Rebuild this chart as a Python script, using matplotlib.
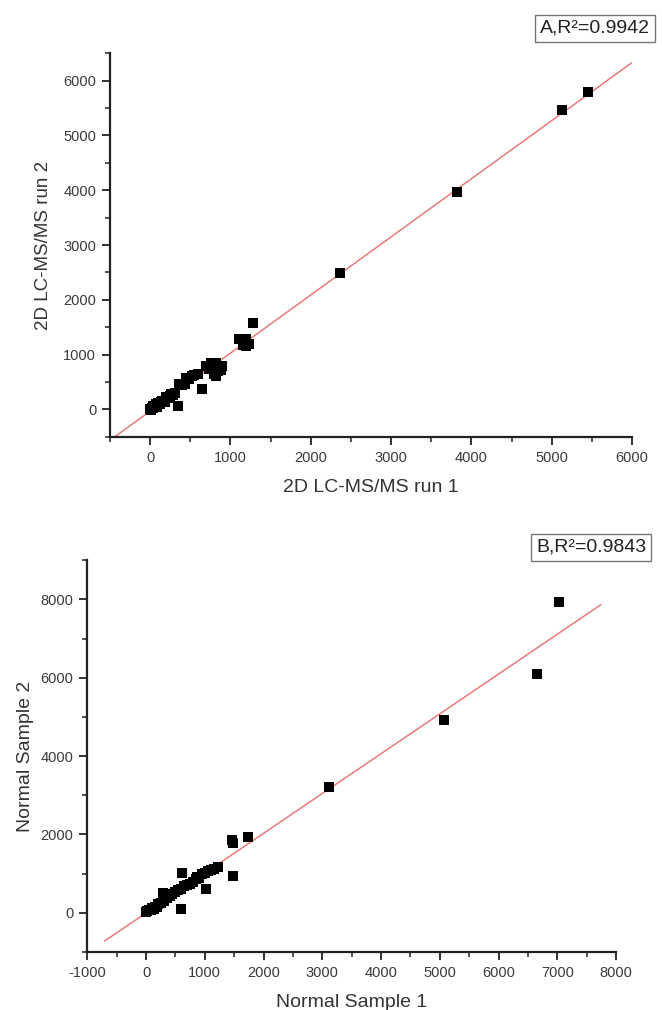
import numpy as np
import matplotlib
matplotlib.use('Agg')
import matplotlib.pyplot as plt
from matplotlib.ticker import MultipleLocator

plt.rcParams['font.family'] = ['Liberation Sans', 'DejaVu Sans']
plt.rcParams['axes.unicode_minus'] = False

# panel A: 2D LC-MS/MS run 1 vs run 2
runA_x = [5446, 5134, 3821, 2362,
          1279, 1112, 1196, 1196, 1150, 1230,
          758, 800, 821, 891, 780, 840, 821, 800, 737, 860, 700, 880,
          641, 341, 362, 446, 480, 550, 520, 590,
          0, 20, 40, 60, 80, 100, 120, 150, 180, 200, 230, 260, 290, 310,
          30, 70, 10, 50, 140, 250, 400, 430]
runA_y = [5793, 5458, 3962, 2496,
          1570, 1282, 1282, 1160, 1180, 1190,
          837, 850, 837, 787, 760, 700, 610, 650, 745, 760, 800, 720,
          366, 55, 470, 573, 560, 623, 600, 640,
          10, 30, 20, 70, 50, 110, 90, 160, 140, 220, 200, 280, 260, 300,
          60, 100, -10, 40, 130, 240, 440, 470]

# panel B: Normal Sample 1 vs Normal Sample 2
normB_x = [7036, 6656, 5065, 3118,
           1732, 1459, 1482, 1476, 608, 1022, 596,
           1231, 1150, 1100, 1050, 1000, 950, 900, 850, 800, 750, 700, 650,
           600, 550, 500, 450, 400, 350, 295, 300, 250, 200, 150, 100, 50,
           0, 20, 80, 130, 180, 862]
normB_y = [7921, 6099, 4911, 3206,
           1942, 1858, 1781, 941, 1010, 611, 94,
           1178, 1120, 1100, 1060, 1020, 980, 900, 860, 780, 740, 720, 680,
           620, 580, 540, 470, 420, 380, 499, 300, 260, 220, 160, 120, 70,
           30, 50, 60, 110, 150, 924]

labelA = 'A,R²=0.9942'
labelB = 'B,R²=0.9843'

fig = plt.figure(figsize=(6.62, 10.1), dpi=100)
axA = fig.add_axes([0.1662, 0.5676, 0.7885, 0.3796])
axB = fig.add_axes([0.1319, 0.0574, 0.7986, 0.3880])


def draw(ax, xs, ys, xlim, ylim, xmaj, ymaj, xlabel, ylabel, ylabsize, ylabpad):
    xs = np.array(xs, float)
    ys = np.array(ys, float)
    k, b = np.polyfit(xs, ys, 1)
    span = xs.max() - xs.min()
    fx = np.array([xs.min() - 0.1 * span, xs.max() + 0.1 * span])
    ax.plot(fx, k * fx + b, color='#e97a7a', lw=1.1, zorder=1)
    ax.scatter(xs, ys, marker='s', s=44, color='black', zorder=2, linewidths=0)
    ax.set_xlim(xlim)
    ax.set_ylim(ylim)
    ax.xaxis.set_major_locator(MultipleLocator(xmaj))
    ax.xaxis.set_minor_locator(MultipleLocator(xmaj / 2))
    ax.yaxis.set_major_locator(MultipleLocator(ymaj))
    ax.yaxis.set_minor_locator(MultipleLocator(ymaj / 2))
    for s in ['top', 'right']:
        ax.spines[s].set_visible(False)
    for s in ['left', 'bottom']:
        ax.spines[s].set_linewidth(1.6)
        ax.spines[s].set_color('#222222')
    ax.tick_params(which='major', direction='out', length=6, width=1.3,
                   labelsize=10.5, labelcolor='#3a3a3a', color='#222222', pad=4)
    ax.tick_params(which='minor', direction='out', length=3.5, width=1.1, color='#222222')
    ax.set_xlabel(xlabel, fontsize=14, color='#333333', labelpad=10)
    ax.set_ylabel(ylabel, fontsize=ylabsize, color='#333333', labelpad=ylabpad)


draw(axA, runA_x, runA_y, (-500, 6000), (-500, 6500), 1000, 1000,
     '2D LC-MS/MS run 1', '2D LC-MS/MS run 2', 13.5, 8)
draw(axB, normB_x, normB_y, (-1000, 8000), (-1000, 9000), 1000, 2000,
     'Normal Sample 1', 'Normal Sample 2', 14, 5)

box = dict(boxstyle='square,pad=0.25', facecolor='white', edgecolor='#777777', lw=1)
fig.text(0.899, 0.972, labelA, fontsize=14, color='#222222', ha='center', va='center', bbox=box)
fig.text(0.893, 0.458, labelB, fontsize=14, color='#222222', ha='center', va='center', bbox=box)

fig.savefig('out.png', dpi=100)
